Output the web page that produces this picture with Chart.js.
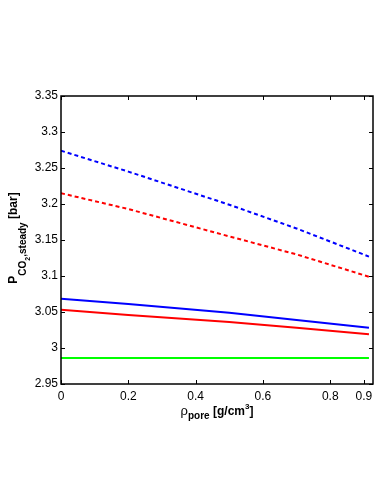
<!DOCTYPE html>
<html lang="en">
<head>
  <meta charset="UTF-8">
  <title>P CO2 steady vs rho pore</title>
  <script src="https://cdn.jsdelivr.net/npm/chart.js"></script>
  <style>
    body { margin: 0; background: #fff; }
    .box { width: 382px; height: 494px; }
  </style>
</head>
<body>
  <div class="box"><canvas id="grafico"></canvas></div>
<script>
  // data
  var rhoPore = [0, 0.2, 0.5, 0.7, 0.915]
  var blueDashed = [3.274, 3.245, 3.199, 3.166, 3.127]
  var redDashed = [3.215, 3.193, 3.155, 3.130, 3.099]
  var blueSolid = [3.0685, 3.061, 3.049, 3.039, 3.028]
  var redSolid = [3.053, 3.046, 3.036, 3.028, 3.019]
  var greenSolid = [2.986, 2.986, 2.986, 2.986, 2.986]

  var xTicks = [0, 0.2, 0.4, 0.6, 0.8, 0.9]
  var yTicks = [2.95, 3, 3.05, 3.1, 3.15, 3.2, 3.25, 3.3, 3.35]

  function pontos(ys) {
    return rhoPore.map(function (x, i) { return { x: x, y: ys[i] } })
  }

  function serie(ys, cor, tracejado) {
    return {
      data: pontos(ys),
      borderColor: cor,
      borderWidth: 2,
      borderDash: tracejado ? [4, 3] : [],
      pointRadius: 0,
      tension: 0,
      fill: false
    }
  }

  // frame, inward ticks and axis titles with sub/superscripts
  var moldura = {
    id: 'moldura',
    afterDraw: function (chart) {
      var ctx = chart.ctx
      var a = chart.chartArea
      var sx = chart.scales.x
      var sy = chart.scales.y
      ctx.save()
      ctx.strokeStyle = '#000'
      ctx.lineWidth = 1.5
      ctx.strokeRect(a.left, a.top, a.right - a.left, a.bottom - a.top)
      ctx.lineWidth = 1
      ctx.beginPath()
      xTicks.forEach(function (v) {
        var px = Math.round(sx.getPixelForValue(v)) + 0.5
        ctx.moveTo(px, a.bottom); ctx.lineTo(px, a.bottom - 4)
        ctx.moveTo(px, a.top); ctx.lineTo(px, a.top + 4)
      })
      yTicks.forEach(function (v) {
        var py = Math.round(sy.getPixelForValue(v)) + 0.5
        ctx.moveTo(a.left, py); ctx.lineTo(a.left + 4, py)
        ctx.moveTo(a.right, py); ctx.lineTo(a.right - 4, py)
      })
      ctx.stroke()

      ctx.fillStyle = '#000'
      ctx.textBaseline = 'alphabetic'
      ctx.textAlign = 'left'

      function larg(p) {
        ctx.font = p.w + ' ' + p.s + 'px "Liberation Sans", Arial, sans-serif'
        return ctx.measureText(p.t).width
      }
      function escreve(partes, x0, y0) {
        var total = 0
        partes.forEach(function (p) { total += larg(p) })
        var x = x0 - total / 2
        partes.forEach(function (p) {
          var w = larg(p)
          ctx.fillText(p.t, x, y0 + p.d)
          x += w
        })
      }

      // x title
      var cx = (a.left + a.right) / 2
      escreve([
        { t: 'ρ', s: 13, w: 'normal', d: 0 },
        { t: 'pore', s: 10, w: 'bold', d: 4 },
        { t: ' [g/cm', s: 12, w: 'bold', d: 0 },
        { t: '3', s: 8, w: 'bold', d: -6 },
        { t: ']', s: 12, w: 'bold', d: 0 }
      ], cx, 415)

      // y title, rotated
      var cy = (a.top + a.bottom) / 2
      ctx.translate(17, cy - 2)
      ctx.rotate(-Math.PI / 2)
      escreve([
        { t: 'P', s: 12, w: 'bold', d: 0 },
        { t: 'CO', s: 10, w: 'bold', d: 9 },
        { t: '2', s: 7, w: 'bold', d: 13 },
        { t: ',steady', s: 10, w: 'bold', d: 9 },
        { t: ' [bar]', s: 12, w: 'bold', d: 0 }
      ], 0, 0)
      ctx.restore()
    }
  }

  var fonteTick = { family: '"Liberation Sans", Arial, sans-serif', size: 12 }

  const config = {
    type: 'line',
    data: {
      datasets: [
        serie(blueDashed, '#0000ff', true),
        serie(redDashed, '#ff0000', true),
        serie(blueSolid, '#0000ff', false),
        serie(redSolid, '#ff0000', false),
        serie(greenSolid, '#00ff00', false)
      ]
    },
    options: {
      responsive: true,
      maintainAspectRatio: false,
      animation: false,
      devicePixelRatio: 1,
      layout: { padding: { top: 96, right: 9, left: 0, bottom: 0 } },
      plugins: { legend: { display: false }, tooltip: { enabled: false } },
      scales: {
        x: {
          type: 'linear',
          min: 0,
          max: 0.927,
          grid: { display: false, drawTicks: false },
          border: { display: false },
          afterBuildTicks: function (s) { s.ticks = xTicks.map(function (v) { return { value: v } }) },
          afterFit: function (s) { s.height = 110 },
          ticks: {
            color: '#000', font: fonteTick, padding: 5, maxRotation: 0, autoSkip: false,
            callback: function (v) { return String(+v.toFixed(2)) }
          }
        },
        y: {
          type: 'linear',
          min: 2.95,
          max: 3.35,
          grid: { display: false, drawTicks: false },
          border: { display: false },
          afterBuildTicks: function (s) { s.ticks = yTicks.map(function (v) { return { value: v } }) },
          afterFit: function (s) { s.width = 61 },
          ticks: {
            color: '#000', font: fonteTick, padding: 3, autoSkip: false,
            callback: function (v) { return String(+v.toFixed(2)) }
          }
        }
      }
    },
    plugins: [moldura]
  }

  const grafico = new Chart(document.getElementById('grafico'), config)
</script>
</body>
</html>
